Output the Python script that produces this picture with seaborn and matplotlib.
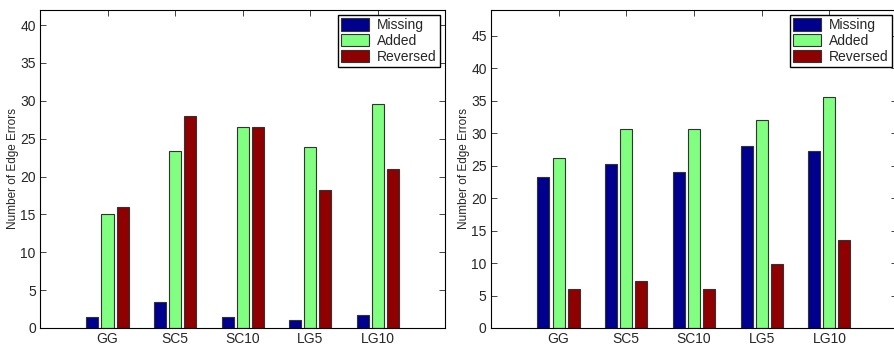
import pandas as pd
import matplotlib
matplotlib.use('Agg')
import matplotlib.pyplot as plt
import seaborn as sns

sns.set_style('white')
plt.rcParams['font.family'] = ['Liberation Sans', 'DejaVu Sans']

#data
methods = ['GG', 'SC5', 'SC10', 'LG5', 'LG10']
errorTypes = ['Missing', 'Added', 'Reversed']
leftMissing = [1.45, 3.4, 1.45, 1.0, 1.65]
leftAdded = [15.0, 23.4, 26.6, 23.9, 29.6]
leftReversed = [16.0, 28.0, 26.5, 18.2, 21.0]
rightMissing = [23.2, 25.2, 24.0, 28.0, 27.2]
rightAdded = [26.2, 30.6, 30.6, 32.0, 35.6]
rightReversed = [6.0, 7.2, 6.0, 9.8, 13.6]

colours = ['#00008F', '#80FF80', '#8F0000']


def makeFrame(missing, added, reversed_):
    rows = []
    for name, vals in zip(errorTypes, [missing, added, reversed_]):
        for m, v in zip(methods, vals):
            rows.append({'Method': m, 'Error': name, 'Count': v})
    return pd.DataFrame(rows)


def drawPanel(ax, df, ymax, yticks):
    sns.barplot(data=df, x='Method', y='Count', hue='Error', hue_order=errorTypes,
                order=methods, palette=colours, saturation=1, width=0.667, gap=0.2,
                edgecolor='#333333', linewidth=0.8, ax=ax)
    ax.set_xlim(-1, 5)
    ax.set_ylim(0, ymax)
    ax.set_yticks(yticks)
    ax.set_xlabel('')
    ax.set_ylabel('Number of Edge Errors', fontsize=8.5, labelpad=1)
    ax.tick_params(direction='in', top=True, right=True, bottom=True, left=True,
                   length=4, width=0.6, labelsize=10, pad=3)
    for s in ax.spines.values():
        s.set_color('black')
        s.set_linewidth(0.8)
    leg = ax.legend(loc='upper right', fontsize=10, fancybox=False, framealpha=1,
                    borderaxespad=0.35, handlelength=2.0, handleheight=1.0,
                    labelspacing=0.12, handletextpad=0.6, borderpad=0.25)
    leg.get_frame().set_edgecolor('black')
    leg.get_frame().set_linewidth(1.0)


fig = plt.figure(figsize=(8.94, 3.47), dpi=100)
axLeft = fig.add_axes([0.0447, 0.0548, 0.4533, 0.9164])
axRight = fig.add_axes([0.549, 0.0548, 0.4545, 0.9164])

drawPanel(axLeft, makeFrame(leftMissing, leftAdded, leftReversed), 42, range(0, 41, 5))
drawPanel(axRight, makeFrame(rightMissing, rightAdded, rightReversed), 49, range(0, 46, 5))

fig.savefig('out.png', dpi=100)
